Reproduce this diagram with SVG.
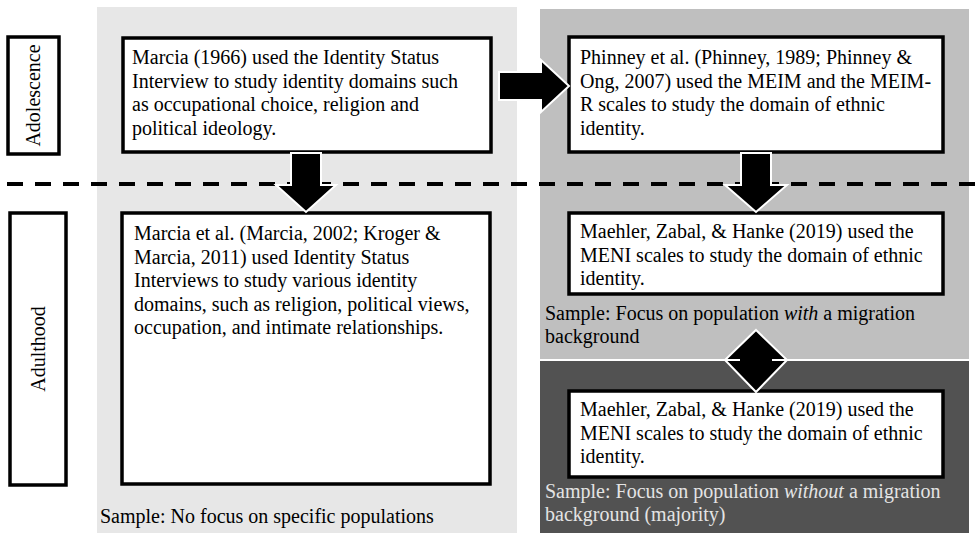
<svg xmlns="http://www.w3.org/2000/svg" width="976" height="533" viewBox="0 0 976 533">
<style>
.t{font-family:"Liberation Serif","Times New Roman",serif;font-size:20px;fill:#000}
.lt{fill:#e4e4e4}
.box{fill:#fff;stroke:#000;stroke-width:3.5}
.arr{fill:#000;stroke:#fff;stroke-width:2;stroke-linejoin:miter}
</style>
<rect width="976" height="533" fill="#fff"/>
<g id="panels">
<rect x="97" y="7" width="420" height="526" fill="#e7e7e7"/>
<rect x="540" y="9" width="429" height="350" fill="#bfbfbf"/>
<rect x="540" y="361" width="429" height="172" fill="#525252"/>
</g>
<line id="divider" x1="7" y1="184" x2="976" y2="184" stroke="#000" stroke-width="4" stroke-dasharray="16 12"/>
<g id="adolescence">
<rect class="box" x="8" y="37" width="51" height="117"/>
<text class="t" transform="translate(40,95.5) rotate(-90)" text-anchor="middle">Adolescence</text>
</g>
<g id="adulthood">
<rect class="box" x="10" y="213" width="56" height="272"/>
<text class="t" transform="translate(45,349) rotate(-90)" text-anchor="middle">Adulthood</text>
</g>
<g id="marcia1966">
<rect class="box" x="123" y="38" width="368" height="114"/>
<text class="t" x="132" y="64">Marcia (1966) used the Identity Status</text>
<text class="t" x="132" y="87.5">Interview to study identity domains such</text>
<text class="t" x="132" y="111">as occupational choice, religion and</text>
<text class="t" x="132" y="134.5">political ideology.</text>
</g>
<g id="phinney">
<rect class="box" x="569" y="37" width="374" height="115"/>
<text class="t" x="580" y="64">Phinney et al. (Phinney, 1989; Phinney &amp;</text>
<text class="t" x="580" y="87.5">Ong, 2007) used the MEIM and the MEIM-</text>
<text class="t" x="580" y="111">R scales to study the domain of ethnic</text>
<text class="t" x="580" y="134.5">identity.</text>
</g>
<g id="marcia-etal">
<rect class="box" x="122" y="213" width="368" height="271"/>
<text class="t" x="134" y="240">Marcia et al. (Marcia, 2002; Kroger &amp;</text>
<text class="t" x="134" y="263.5">Marcia, 2011) used Identity Status</text>
<text class="t" x="134" y="287">Interviews to study various identity</text>
<text class="t" x="134" y="310.5">domains, such as religion, political views,</text>
<text class="t" x="134" y="334">occupation, and intimate relationships.</text>
</g>
<g id="maehler-with">
<rect class="box" x="569" y="213" width="374" height="81"/>
<text class="t" x="580" y="238">Maehler, Zabal, &amp; Hanke (2019) used the</text>
<text class="t" x="580" y="261.5">MENI scales to study the domain of ethnic</text>
<text class="t" x="580" y="285">identity.</text>
</g>
<g id="maehler-without">
<rect class="box" x="569" y="391" width="374" height="86"/>
<text class="t" x="580" y="416">Maehler, Zabal, &amp; Hanke (2019) used the</text>
<text class="t" x="580" y="439.5">MENI scales to study the domain of ethnic</text>
<text class="t" x="580" y="463">identity.</text>
</g>
<g id="sample-labels">
<text class="t" x="100" y="523">Sample: No focus on specific populations</text>
<text class="t" x="545" y="320">Sample: Focus on population <tspan font-style="italic">with</tspan> a migration</text>
<text class="t" x="545" y="343">background</text>
<text class="t lt" x="545" y="498">Sample: Focus on population <tspan font-style="italic">without</tspan> a migration</text>
<text class="t lt" x="545" y="521">background (majority)</text>
</g>
<g id="connectors">
<polygon class="arr" points="291,153 321,153 321,185 336,185 306,212 276,185 291,185"/>
<polygon class="arr" points="741,153 771,153 771,185 787,185 756,212 725,185 741,185"/>
<polygon class="arr" points="499,72 541,72 541,60 569,86 541,112 541,100 499,100"/>
<polygon class="arr" points="756,330 787,360 756,392 725,360"/>
<line x1="725" y1="360" x2="740" y2="360" stroke="#fff" stroke-width="2"/>
<line x1="772" y1="360" x2="787" y2="360" stroke="#fff" stroke-width="2"/>
</g>
</svg>
